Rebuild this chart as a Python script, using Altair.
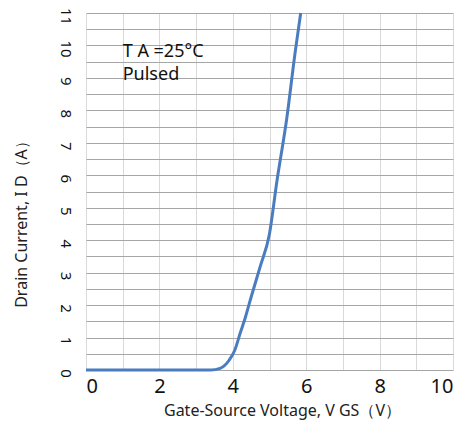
import altair as alt
import pandas as pd

vgs = [0, 1, 2, 3, 3.4, 3.65, 3.9, 4.05, 4.2, 4.35, 4.5, 4.75, 5.0, 5.2, 5.47, 5.7, 5.85]
id_a = [0, 0, 0, 0, 0, 0.05, 0.3, 0.6, 1.13, 1.65, 2.25, 3.2, 4.2, 5.8, 7.75, 9.8, 11]

note_x = [1.0, 1.0]
note_y = [9.8, 9.08]
note_txt = ["T A =25°C", "Pulsed"]

x_grid = [0, 1, 2, 3, 4, 5, 6, 7, 8, 9, 10]
y_grid = [i * 0.5 for i in range(23)]

FONT = "Noto Sans"

curve = pd.DataFrame({"x": vgs, "y": id_a})
notes = pd.DataFrame({"x": note_x, "y": note_y, "t": note_txt})

xs = alt.Scale(domain=[0, 10], nice=False)
ys = alt.Scale(domain=[0, 11], nice=False)

xaxis = alt.Axis(
    values=x_grid,
    labelExpr="datum.value % 2 == 0 ? format(datum.value, 'd') : ''",
    grid=True, gridColor="#d9d9d9", gridWidth=1,
    domain=False, ticks=False,
    labelFont=FONT, labelFontSize=20, labelColor="#111111", labelPadding=6,
    title="Gate-Source Voltage, V GS（V）",
    titleFont=FONT, titleFontSize=16, titleFontWeight="normal", titleColor="#222222",
    titlePadding=6, titleX=196,
)
yaxis = alt.Axis(
    values=y_grid,
    labelExpr="datum.value % 1 == 0 ? format(datum.value, 'd') : ''",
    grid=True, gridColor="#a6a6a6", gridWidth=1,
    domain=False, ticks=False, tickSize=0,
    labelAngle=90, labelAlign="center", labelBaseline="middle", labelPadding=21,
    labelOffset=3, labelFlush=False,
    labelFont=FONT, labelFontSize=15, labelColor="#111111",
    title="Drain Current, I D（A）",
    titleFont=FONT, titleFontSize=16, titleFontWeight="normal", titleColor="#222222",
    titleX=-65, titleY=207, titleAlign="center", titleBaseline="middle", titleAngle=270,
)

line = alt.Chart(curve).mark_line(
    color="#4a7dbf", strokeWidth=3, interpolate="monotone", clip=False
).encode(
    x=alt.X("x:Q", scale=xs, axis=xaxis),
    y=alt.Y("y:Q", scale=ys, axis=yaxis),
)

text = alt.Chart(notes).mark_text(
    align="left", baseline="middle", font=FONT, fontSize=18, color="#111111"
).encode(
    x=alt.X("x:Q", scale=xs, axis=xaxis),
    y=alt.Y("y:Q", scale=ys, axis=yaxis),
    text="t:N",
)

chart = (
    alt.layer(line, text)
    .properties(
        width=367, height=357,
        autosize=alt.AutoSizeParams(type="none"),
        padding={"left": 78, "top": 5, "right": 3, "bottom": 50},
    )
    .configure_view(stroke=None)
)

chart.save("out.html", embed_options={"renderer": "svg", "actions": False})
